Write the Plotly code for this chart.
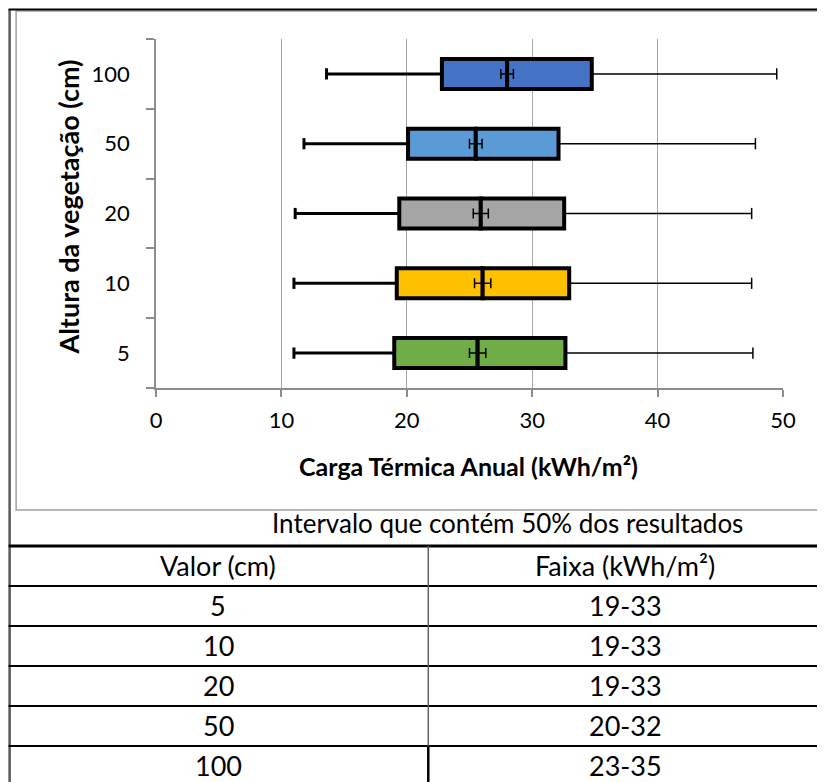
import plotly.graph_objects as go

# dados do box plot (kWh/m²)
categorias = ["5", "10", "20", "50", "100"]
minimo = [11.0, 11.0, 11.1, 11.8, 13.6]
q1 = [19.0, 19.2, 19.4, 20.1, 22.8]
mediana = [25.65, 26.05, 25.9, 25.5, 28.0]
q3 = [32.65, 32.95, 32.55, 32.1, 34.75]
maximo = [47.6, 47.5, 47.5, 47.8, 49.5]
media = [25.65, 26.05, 25.9, 25.5, 28.0]
erro_media = [0.65, 0.65, 0.6, 0.5, 0.5]
cores = ["#70AD47", "#FFC000", "#A5A5A5", "#5B9BD5", "#4472C4"]

# tabela
tabela_titulo = "Intervalo que contém 50% dos resultados"
tabela_cabecalho = ["Valor (cm)", "Faixa (kWh/m²)"]
tabela_valor = ["5", "10", "20", "50", "100"]
tabela_faixa = ["19-33", "19-33", "19-33", "20-32", "23-35"]

FONTE = "Lato"
OFF = 8  # margem do body da página
W, H = 817, 774
L, R, T, B = 147.5, 42, 31, 394
PW = W - L - R
PH = H - T - B


# converte pixel da página em coordenada "paper"
def px(x):
    return (x - OFF - L) / PW


def py(y):
    return (H - B - (y - OFF)) / PH


fig = go.Figure()

# caixas: Q1 -> mediana e mediana -> Q3
for i, c in enumerate(categorias):
    fig.add_trace(go.Bar(
        y=[c], x=[mediana[i] - q1[i]], base=[q1[i]], orientation="h",
        width=0.43, marker=dict(color=cores[i], line=dict(color="black", width=4)),
        showlegend=False, hoverinfo="skip",
    ))
    fig.add_trace(go.Bar(
        y=[c], x=[q3[i] - mediana[i]], base=[mediana[i]], orientation="h",
        width=0.43, marker=dict(color=cores[i], line=dict(color="black", width=4)),
        showlegend=False, hoverinfo="skip",
    ))

# bigodes
xs_esq, ys_esq, xs_dir, ys_dir = [], [], [], []
for i, c in enumerate(categorias):
    xs_esq += [minimo[i], q1[i], None]
    ys_esq += [c, c, None]
    xs_dir += [q3[i], maximo[i], None]
    ys_dir += [c, c, None]

fig.add_trace(go.Scatter(x=xs_esq, y=ys_esq, mode="lines",
                         line=dict(color="black", width=3), showlegend=False, hoverinfo="skip"))
fig.add_trace(go.Scatter(x=xs_dir, y=ys_dir, mode="lines",
                         line=dict(color="black", width=1.5), showlegend=False, hoverinfo="skip"))
fig.add_trace(go.Scatter(x=minimo, y=categorias, mode="markers",
                         marker=dict(symbol="line-ns", size=8, line=dict(color="black", width=3)),
                         showlegend=False, hoverinfo="skip"))
fig.add_trace(go.Scatter(x=maximo, y=categorias, mode="markers",
                         marker=dict(symbol="line-ns", size=8, line=dict(color="black", width=1.5)),
                         showlegend=False, hoverinfo="skip"))

# média com barra de erro
fig.add_trace(go.Scatter(
    x=media, y=categorias, mode="markers",
    marker=dict(size=1, color="black"),
    error_x=dict(type="data", array=erro_media, color="black", thickness=1.5, width=5),
    showlegend=False, hoverinfo="skip",
))

fig.update_layout(
    width=W, height=H,
    margin=dict(l=L, r=R, t=T, b=B, autoexpand=False),
    paper_bgcolor="white", plot_bgcolor="white",
    barmode="overlay",
    font=dict(family=FONTE, size=22, color="black"),
)

fig.update_xaxes(
    range=[0, 50], dtick=10, showgrid=True, gridcolor="#A6A6A6", gridwidth=1,
    showline=True, linecolor="#8C8C8C", linewidth=1.5, zeroline=False,
    ticks="outside", ticklen=7, tickcolor="#8C8C8C", tickwidth=1.5,
    ticklabelstandoff=5, tickfont=dict(size=22),
)
fig.update_yaxes(
    type="category", categoryorder="array", categoryarray=categorias,
    showgrid=False, showline=True, linecolor="#8C8C8C", linewidth=1.5,
    ticks="outside", tickson="boundaries", ticklen=8, tickcolor="#8C8C8C", tickwidth=1.5,
    ticklabelstandoff=20, tickfont=dict(size=22),
)

anot = []


def texto(t, x, y, tamanho, angulo=0):
    anot.append(dict(text=t, x=px(x), y=py(y), xref="paper", yref="paper",
                     xanchor="center", yanchor="middle", textangle=angulo,
                     showarrow=False, font=dict(size=tamanho)))


texto("<b>Carga Térmica Anual (kWh/m²)</b>", 468, 466, 25)
texto("<b>Altura da vegetação (cm)</b>", 67, 207, 27, -90)
texto(tabela_titulo, 507, 523, 26)

linhas = [546, 586, 626, 666, 706, 746]
rotulos_esq = [tabela_cabecalho[0]] + tabela_valor
rotulos_dir = [tabela_cabecalho[1]] + tabela_faixa
for k in range(len(rotulos_esq)):
    yc = linhas[k] + 19
    texto(rotulos_esq[k], 218, yc, 27)
    texto(rotulos_dir[k], 625, yc, 27)
fig.update_layout(annotations=anot)

formas = []


def linha(x0, y0, x1, y1, cor, larg):
    formas.append(dict(type="line", x0=px(x0), x1=px(x1), y0=py(y0), y1=py(y1),
                       xref="paper", yref="paper", line=dict(color=cor, width=larg)))


# moldura do gráfico
formas.append(dict(type="rect", x0=px(15.5), x1=px(820.5), y0=py(11), y1=py(510),
                   xref="paper", yref="paper", line=dict(color="#A0A0A0", width=1.5)))
# bordas externas
linha(9, 9, 9, 782, "#5A5A5A", 2.5)
linha(8, 9.5, 825, 9.5, "black", 2)
# linhas da tabela
for k, yl in enumerate(linhas):
    linha(8, yl, 825, yl, "black", 3 if k == 0 else 2)
linha(428, 546, 428, 746, "#606060", 1.5)
linha(428, 746, 428, 782, "black", 2.5)
fig.update_layout(shapes=formas)

fig.write_html("out.html")
